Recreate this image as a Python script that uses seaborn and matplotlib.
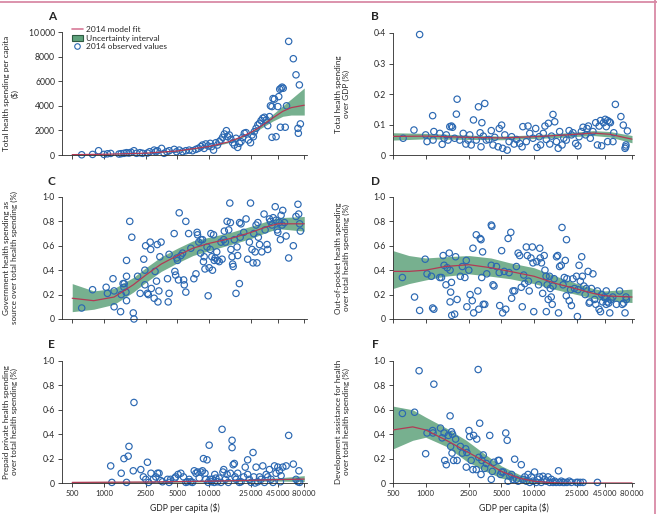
import numpy as np
import pandas as pd
import matplotlib
matplotlib.use('Agg')
import matplotlib.pyplot as plt
from matplotlib.lines import Line2D
from matplotlib.patches import Patch
from matplotlib.ticker import NullLocator
import seaborn as sns

# ---------------- data ----------------
x_ticks = [500, 1000, 2500, 5000, 10000, 25000, 45000, 80000]
x_tick_labels = ['500', '1000', '2500', '5000', '10\u2009000', '25\u2009000', '45\u2009000', '80\u2009000']

# A: total health spending per capita ($)
a_gdp = [615, 780, 890, 1000, 1080, 1160, 1390, 1460, 1550, 1640, 1730, 1810, 1930, 2040, 2200, 2330,
         2590, 2720, 3000, 3110, 3230, 3530, 3730, 3960, 4170, 4650, 4900, 5200, 5590, 6000, 6460, 6950,
         7480, 7890, 8340, 8640, 8960, 9290, 9780, 10230, 10530, 11000, 11570, 12000, 12450, 12940, 13420,
         13930, 14570, 14970, 15530, 16110, 16720, 17330, 17980, 18650, 19350, 20050, 20800, 21580, 22380,
         23600, 24700, 25500, 26300, 26870, 27900, 29000, 30100, 31100, 32300, 33500, 34800, 36000, 37400,
         38200, 39500, 40400, 41700, 43200, 39500, 44900, 45800, 46800, 48200, 49300, 50500, 47500, 52800,
         54300, 56900, 63000, 66800, 69700, 70300, 71900, 73500]
a_val = [20, 50, 350, 50, 100, 130, 80, 110, 140, 190, 160, 220, 350, 140, 190, 140,
         160, 270, 400, 270, 350, 540, 140, 270, 350, 460, 270, 400, 270, 350, 400, 350,
         460, 540, 680, 810, 540, 900, 730, 950, 680, 400, 1000, 810, 1090, 1220, 1440,
         1710, 1980, 1490, 1630, 1280, 1000, 810, 1360, 620, 950, 1090, 1440, 1770, 1820,
         1220, 1000, 1630, 1490, 1900, 2170, 2450, 2580, 2800, 2990, 3070, 2850, 2390, 3120,
         4000, 3940, 4590, 4540, 1490, 1440, 3940, 4750, 5350, 5430, 5520, 5430, 2260, 2260,
         4000, 9240, 7830, 6520, 2170, 1770, 5700, 2530]
a_fit_gdp = [500, 1000, 2500, 5000, 10000, 15000, 20000, 25000, 30000, 40000, 50000, 60000, 80000]
a_fit = [30, 60, 150, 330, 700, 1050, 1450, 1850, 2250, 3000, 3550, 3850, 4050]
a_lo = [10, 40, 120, 290, 640, 980, 1370, 1750, 2100, 2750, 3150, 3250, 3250]
a_hi = [50, 80, 180, 370, 760, 1120, 1530, 1950, 2400, 3300, 4000, 4550, 5450]

# B: total health spending over GDP
b_gdp = [620, 780, 880, 1000, 1030, 1160, 1190, 1170, 1350, 1420, 1480, 1550, 1610, 1670, 1730, 1770,
         1850, 1920, 1950, 2060, 2220, 2350, 2460, 2550, 2630, 2760, 2930, 3070, 3180, 3240, 3300, 3400,
         3510, 3630, 3830, 4030, 4180, 4340, 4660, 4770, 5020, 5130, 5370, 5650, 5880, 6210, 6540, 6900,
         7360, 7750, 7880, 8480, 8790, 9120, 9770, 10350, 10650, 11150, 11470, 12160, 12600, 12970, 13550,
         13960, 14500, 14940, 15510, 16080, 16700, 17210, 18110, 18800, 19820, 21040, 22120, 22840, 24190,
         25400, 26000, 27300, 28300, 29900, 30800, 31700, 33000, 34900, 37000, 38400, 39800, 41000, 42000,
         43700, 45300, 46300, 47700, 49500, 50600, 47700, 53400, 54300, 56200, 63200, 66500, 70000, 70400,
         72600, 69000]
b_val = [0.055, 0.082, 0.395, 0.066, 0.044, 0.129, 0.077, 0.049, 0.071, 0.035, 0.055, 0.066, 0.049, 0.093,
         0.095, 0.091, 0.055, 0.134, 0.183, 0.049, 0.071, 0.036, 0.049, 0.066, 0.033, 0.115, 0.049, 0.158,
         0.073, 0.027, 0.106, 0.062, 0.169, 0.049, 0.051, 0.080, 0.033, 0.058, 0.027, 0.087, 0.098, 0.022,
         0.066, 0.016, 0.044, 0.060, 0.036, 0.051, 0.038, 0.027, 0.093, 0.044, 0.095, 0.071, 0.055, 0.087,
         0.025, 0.060, 0.033, 0.071, 0.095, 0.051, 0.104, 0.036, 0.062, 0.133, 0.109, 0.044, 0.022, 0.077,
         0.033, 0.055, 0.049, 0.080, 0.066, 0.073, 0.038, 0.030, 0.060, 0.077, 0.091, 0.066, 0.087, 0.095,
         0.055, 0.077, 0.106, 0.033, 0.095, 0.113, 0.030, 0.106, 0.117, 0.093, 0.113, 0.109, 0.106, 0.044,
         0.044, 0.073, 0.166, 0.126, 0.098, 0.027, 0.033, 0.079, 0.022]
b_fit_gdp = [500, 1000, 2500, 5000, 10000, 20000, 35000, 50000, 80000]
b_fit = [0.061, 0.062, 0.058, 0.056, 0.060, 0.066, 0.072, 0.068, 0.052]
b_lo = [0.049, 0.053, 0.051, 0.050, 0.054, 0.059, 0.064, 0.059, 0.040]
b_hi = [0.073, 0.071, 0.065, 0.062, 0.066, 0.073, 0.080, 0.077, 0.064]

# C: government health spending share
c_gdp = [615, 780, 1050, 1080, 1220, 1250, 1250, 1460, 1520, 1560, 1440, 1550, 1620, 1640, 1640, 1640,
         1760, 1840, 1900, 1930, 2090, 2210, 2390, 2450, 2450, 2490, 2590, 2640, 2750, 2780, 2820, 3000,
         3060, 3160, 3260, 3330, 3210, 3400, 3490, 4020, 4080, 4160, 4160, 4650, 4720, 4800, 4920, 5000,
         5110, 5190, 5380, 5590, 5720, 5800, 6000, 6000, 6380, 6700, 7150, 7490, 7680, 7750, 7970, 8280,
         8340, 8640, 8820, 8960, 9120, 9540, 9780, 10000, 10230, 10380, 10600, 10750, 11000, 11170, 11400,
         11800, 12000, 12450, 12940, 13260, 13750, 13930, 14250, 14800, 15330, 15700, 15900, 16100, 16500,
         16700, 16900, 17330, 17980, 18400, 18650, 19350, 19450, 19700, 20050, 21300, 22400, 23200, 24100,
         24700, 25500, 26100, 26500, 27300, 27900, 28400, 29000, 29300, 30100, 31600, 33200, 34000, 35400,
         35990, 37400, 38200, 39500, 40500, 42400, 43200, 44300, 44900, 46200, 47500, 48200, 49300, 50000,
         51900, 53800, 56900, 63000, 66800, 69700, 70800, 72300, 73500]
c_val = [0.09, 0.24, 0.26, 0.21, 0.33, 0.23, 0.10, 0.20, 0.29, 0.29, 0.06, 0.26, 0.22, 0.48, 0.35, 0.15,
         0.80, 0.67, 0.05, 0.00, 0.35, 0.21, 0.49, 0.40, 0.28, 0.60, 0.21, 0.20, 0.63, 0.57, 0.25, 0.17,
         0.39, 0.31, 0.14, 0.23, 0.61, 0.51, 0.63, 0.33, 0.14, 0.21, 0.53, 0.70, 0.39, 0.36, 0.50, 0.48,
         0.32, 0.87, 0.52, 0.54, 0.32, 0.28, 0.80, 0.22, 0.70, 0.58, 0.33, 0.37, 0.71, 0.69, 0.63, 0.54,
         0.65, 0.65, 0.47, 0.51, 0.41, 0.59, 0.19, 0.42, 0.57, 0.70, 0.51, 0.40, 0.69, 0.48, 0.50,
         0.55, 0.48, 0.47, 0.63, 0.49, 0.65, 0.72, 0.63, 0.80, 0.73, 0.95, 0.79, 0.57, 0.51,
         0.45, 0.43, 0.65, 0.21, 0.59, 0.52, 0.29, 0.79, 0.67, 0.78, 0.71, 0.82, 0.49, 0.63,
         0.95, 0.57, 0.46, 0.70, 0.55, 0.77, 0.46, 0.79, 0.67, 0.61, 0.55, 0.86, 0.73, 0.61,
         0.57, 0.82, 0.80, 0.77, 0.83, 0.92, 0.81, 0.73, 0.71, 0.79, 0.65, 0.85, 0.77, 0.89,
         0.79, 0.68, 0.50, 0.60, 0.84, 0.94, 0.86, 0.78, 0.72]
c_fit_gdp = [500, 800, 1250, 1900, 2500, 3500, 5000, 7000, 10000, 16000, 25000, 35000, 45000, 80000]
c_fit = [0.17, 0.15, 0.18, 0.28, 0.36, 0.45, 0.52, 0.58, 0.62, 0.66, 0.71, 0.755, 0.78, 0.78]
c_lo = [0.06, 0.08, 0.12, 0.22, 0.30, 0.39, 0.46, 0.52, 0.56, 0.61, 0.66, 0.71, 0.74, 0.72]
c_hi = [0.29, 0.23, 0.25, 0.34, 0.42, 0.51, 0.58, 0.64, 0.67, 0.71, 0.76, 0.80, 0.83, 0.84]

# D: out-of-pocket share
d_gdp = [610, 790, 880, 990, 1030, 1130, 1160, 1190, 1350, 1400, 1450, 1480, 1540, 1580, 1650, 1680, 1680,
         1700, 1730, 1740, 1850, 1890, 1950, 2090, 2180, 2300, 2370, 2400, 2500, 2570, 2690, 2730, 2770,
         2930, 3030, 3090, 3180, 3240, 3290, 3350, 3400, 3510, 3660, 4030, 4080, 4030, 4180, 4270, 4500,
         4770, 4820, 5020, 5130, 5300, 5480, 5760, 5880, 6100, 6210, 6390, 6620, 6870, 7130, 7360, 7620,
         7780, 8020, 8200, 8480, 8670, 8870, 9020, 9350, 9640, 9770, 9930, 10600, 11000, 11280, 11400,
         11700, 12000, 12400, 12600, 12900, 13200, 12970, 13500, 13900, 14100, 14400, 14700, 14940, 15300,
         16100, 16500, 16800, 17200, 17800, 18100, 18500, 19000, 19400, 19900, 19820, 20100, 21100, 21700,
         22100, 22840, 23600, 24600, 25100, 25400, 26000, 26700, 27500, 27900, 28800, 29600, 30300, 31500,
         32200, 32700, 33800, 34900, 36200, 37100, 38400, 39800, 41000, 42000, 42900, 44300, 45300, 46300,
         46300, 47700, 48800, 49900, 51300, 53200, 57500, 61500, 65000, 67000, 69000, 70400, 71000]
d_val = [0.34, 0.18, 0.07, 0.49, 0.37, 0.35, 0.09, 0.08, 0.34, 0.34, 0.52, 0.44, 0.28, 0.42, 0.54, 0.40,
         0.14, 0.22, 0.30, 0.03, 0.04, 0.51, 0.16, 0.35, 0.43, 0.34, 0.48, 0.10, 0.40, 0.20, 0.15, 0.58,
         0.05, 0.69, 0.23, 0.08, 0.66, 0.65, 0.34, 0.55, 0.12, 0.12, 0.37, 0.77, 0.76, 0.44, 0.28, 0.27,
         0.43, 0.38, 0.11, 0.56, 0.05, 0.39, 0.08, 0.66, 0.38, 0.71, 0.17, 0.23, 0.23, 0.43, 0.54, 0.52,
         0.26, 0.10, 0.36, 0.29, 0.59, 0.52, 0.31, 0.23, 0.50, 0.59, 0.46, 0.06, 0.47, 0.28, 0.58, 0.50,
         0.46, 0.21, 0.52, 0.40, 0.35, 0.28, 0.06, 0.16, 0.35, 0.25, 0.18, 0.12, 0.27, 0.33,
         0.51, 0.52, 0.05, 0.43, 0.44, 0.75, 0.28, 0.34, 0.48, 0.65, 0.19, 0.33, 0.15, 0.24,
         0.11, 0.33, 0.25, 0.35, 0.02, 0.24, 0.44, 0.31, 0.51, 0.35, 0.27, 0.20, 0.25, 0.39,
         0.13, 0.14, 0.25, 0.37, 0.16, 0.12, 0.23, 0.08, 0.06, 0.20, 0.14, 0.18, 0.17, 0.12,
         0.23, 0.14, 0.13, 0.05, 0.16, 0.18, 0.12, 0.23, 0.12, 0.13, 0.05, 0.18, 0.16]
d_fit_gdp = [500, 700, 1000, 1500, 2500, 4000, 6000, 10000, 16000, 25000, 35000, 45000, 80000]
d_fit = [0.39, 0.39, 0.40, 0.43, 0.445, 0.42, 0.39, 0.35, 0.29, 0.245, 0.21, 0.19, 0.18]
d_lo = [0.25, 0.29, 0.32, 0.35, 0.37, 0.35, 0.33, 0.29, 0.24, 0.20, 0.17, 0.15, 0.135]
d_hi = [0.56, 0.52, 0.50, 0.51, 0.52, 0.50, 0.46, 0.42, 0.35, 0.29, 0.25, 0.23, 0.245]

# E: prepaid private share
e_gdp = [1160, 1190, 1460, 1550, 1640, 1700, 1730, 1900, 1930, 2240, 2370, 2500, 2590, 2660, 2800, 2950,
         3110, 3230, 3340, 3470, 3600, 4020, 4160, 4300, 4720, 4800, 5060, 5380, 5700, 6000, 6230, 6460,
         6700, 6950, 7210, 7480, 7750, 8040, 8340, 8640, 8820, 9120, 9290, 9540, 9780, 10000, 10230, 10530,
         10750, 11170, 11300, 11570, 12000, 12450, 12940, 13260, 13500, 13750, 14250, 14800, 15200, 15900,
         16500, 16500, 16900, 17330, 17600, 17980, 18650, 19350, 20050, 21300, 22000, 23200, 23200, 24100,
         25000, 26100, 26500, 27300, 27900, 29000, 30100, 31100, 32300, 33500, 34800, 36000, 37400, 38700,
         40400, 41700, 43200, 44900, 46500, 47500, 48200, 50000, 53800, 56900, 63000, 66800, 69700, 71200,
         72300]
e_val = [0.14, 0.005, 0.08, 0.20, 0.005, 0.22, 0.30, 0.10, 0.66, 0.11, 0.05, 0.03, 0.17, 0.005, 0.08, 0.03,
         0.05, 0.08, 0.08, 0.02, 0.01, 0.03, 0.005, 0.03, 0.04, 0.05, 0.07, 0.08, 0.05, 0.005, 0.01, 0.03,
         0.01, 0.005, 0.10, 0.08, 0.09, 0.04, 0.09, 0.10, 0.20, 0.08, 0.03, 0.19, 0.005, 0.31, 0.03, 0.01,
         0.03, 0.005, 0.07, 0.04, 0.01, 0.04, 0.005, 0.44, 0.09, 0.11, 0.03, 0.07, 0.005, 0.08,
         0.35, 0.29, 0.15, 0.16, 0.05, 0.03, 0.08, 0.005, 0.01, 0.05, 0.13, 0.19, 0.07, 0.03,
         0.005, 0.25, 0.05, 0.0, 0.13, 0.01, 0.05, 0.03, 0.14, 0.005, 0.07, 0.05, 0.11, 0.03,
         0.005, 0.14, 0.08, 0.13, 0.10, 0.01, 0.06, 0.13, 0.14, 0.39, 0.155, 0.03, 0.01, 0.10,
         0.005]
e_fit_gdp = [500, 2500, 10000, 25000, 45000, 80000]
e_fit = [0.005, 0.008, 0.015, 0.022, 0.028, 0.032]
e_lo = [0.0, 0.003, 0.009, 0.014, 0.016, 0.012]
e_hi = [0.012, 0.014, 0.022, 0.032, 0.042, 0.060]

# F: development assistance for health share
f_gdp = [610, 790, 870, 1000, 1030, 1160, 1170, 1190, 1370, 1420, 1480, 1500, 1550, 1620, 1680, 1700, 1730,
         1750, 1770, 1810, 1890, 1950, 2090, 2180, 2340, 2370, 2400, 2510, 2550, 2630, 2730, 2770, 2930,
         2960, 3050, 3090, 3150, 3240, 3300, 3400, 3500, 3630, 3900, 4030, 4120, 4250, 4660, 4770, 4900,
         5020, 5200, 5480, 5650, 5760, 5980, 6210, 6390, 6620, 6870, 7130, 7620, 7880, 8200, 8480, 8790,
         9120, 9450, 9770, 10100, 10470, 10850, 11250, 11650, 12070, 12500, 12970, 13450, 13930, 14430,
         14940, 15500, 16000, 16800, 17210, 17800, 18500, 19100, 20100, 21100, 22100, 24600, 25400, 26700,
         28300, 38400]
f_val = [0.57, 0.58, 0.92, 0.24, 0.41, 0.43, 0.41, 0.81, 0.45, 0.37, 0.41, 0.185, 0.15, 0.39, 0.55, 0.30,
         0.42, 0.245, 0.40, 0.185, 0.36, 0.185, 0.30, 0.245, 0.28, 0.13, 0.25, 0.43, 0.38, 0.185, 0.11,
         0.39, 0.11, 0.36, 0.93, 0.21, 0.49, 0.07, 0.185, 0.23, 0.12, 0.16, 0.39, 0.03, 0.095, 0.17,
         0.185, 0.185, 0.07, 0.09, 0.09, 0.41, 0.35, 0.015, 0.055, 0.07, 0.03, 0.195, 0.03, 0.015, 0.15,
         0.03, 0.05, 0.015, 0.07, 0.005, 0.05, 0.015, 0.09, 0.005, 0.03, 0.05, 0.005, 0.055, 0.03,
         0.015, 0.05, 0.005, 0.03, 0.005, 0.015, 0.005, 0.10, 0.005, 0.015, 0.005, 0.005, 0.005, 0.015,
         0.005, 0.005, 0.005, 0.005, 0.005, 0.005]
f_fit_gdp = [500, 760, 1000, 1550, 2370, 3600, 5000, 7300, 10000, 14000, 18000, 25000, 45000, 80000]
f_fit = [0.435, 0.46, 0.435, 0.35, 0.26, 0.17, 0.095, 0.04, 0.014, 0.004, 0.0, 0.0, 0.0, 0.0]
f_lo = [0.28, 0.35, 0.375, 0.30, 0.18, 0.095, 0.04, 0.01, 0.0, 0.0, 0.0, 0.0, 0.0, 0.0]
f_hi = [0.63, 0.60, 0.54, 0.45, 0.35, 0.23, 0.14, 0.07, 0.03, 0.01, 0.002, 0.0, 0.0, 0.0]

panels = [
    ('A', a_gdp, a_val, a_fit_gdp, a_fit, a_lo, a_hi,
     'Total health spending per capita\n($)', [0, 2000, 4000, 6000, 8000, 10000],
     ['0', '2000', '4000', '6000', '8000', '10\u2009000']),
    ('B', b_gdp, b_val, b_fit_gdp, b_fit, b_lo, b_hi,
     'Total health spending\nover GDP (%)', [0, 0.1, 0.2, 0.3, 0.4],
     ['0', '0\u00b71', '0\u00b72', '0\u00b73', '0\u00b74']),
    ('C', c_gdp, c_val, c_fit_gdp, c_fit, c_lo, c_hi,
     'Government health spending as\nsource over total health spending (%)', None, None),
    ('D', d_gdp, d_val, d_fit_gdp, d_fit, d_lo, d_hi,
     'Out-of-pocket health spending\nover total health spending (%)', None, None),
    ('E', e_gdp, e_val, e_fit_gdp, e_fit, e_lo, e_hi,
     'Prepaid private health spending\nover total health spending (%)', None, None),
    ('F', f_gdp, f_val, f_fit_gdp, f_fit, f_lo, f_hi,
     'Development assistance for health\nover total health spending (%)', None, None),
]
share_ticks = [0, 0.2, 0.4, 0.6, 0.8, 1.0]
share_labels = ['0', '0\u00b72', '0\u00b74', '0\u00b76', '0\u00b78', '1\u00b70']

# ---------------- style ----------------
sns.set_style('ticks')
plt.rcParams['font.family'] = ['Lato', 'DejaVu Sans']
plt.rcParams['axes.linewidth'] = 0.6
plt.rcParams['xtick.major.width'] = 0.6
plt.rcParams['ytick.major.width'] = 0.6
plt.rcParams['xtick.major.size'] = 3
plt.rcParams['ytick.major.size'] = 3

blue = '#2b68b2'
red = '#b23a55'
green = '#5fa27c'
axis_col = '#2a2a2a'

fig = plt.figure(figsize=(6.57, 5.14), dpi=100)

# axes boxes in figure fractions: [left, bottom, width, height]
boxes = [
    [0.0944, 0.6984, 0.3729, 0.2393],
    [0.5982, 0.6984, 0.3668, 0.2374],
    [0.0944, 0.3794, 0.3729, 0.2374],
    [0.5982, 0.3794, 0.3668, 0.2374],
    [0.0944, 0.0603, 0.3729, 0.2374],
    [0.5982, 0.0603, 0.3668, 0.2374],
]
letter_pos = [(0.079, 0.967), (0.571, 0.967), (0.079, 0.646), (0.571, 0.646), (0.079, 0.329), (0.571, 0.329)]

for i, (letter, gx, gy, fx, fy, flo, fhi, ylab, yt, ytl) in enumerate(panels):
    ax = fig.add_axes(boxes[i])
    left_col = (i % 2 == 0)

    ax.fill_between(fx, flo, fhi, color=green, alpha=0.85, linewidth=0, zorder=1)
    df = pd.DataFrame({'gdp': gx, 'val': gy})
    sns.scatterplot(data=df, x='gdp', y='val', ax=ax, marker='o', s=21,
                    facecolors='none', edgecolor=blue, linewidth=0.85,
                    zorder=2, clip_on=False)
    fit_df = pd.DataFrame({'gdp': fx, 'val': fy})
    sns.lineplot(data=fit_df, x='gdp', y='val', ax=ax, color=red, linewidth=0.9, zorder=3)

    ax.set_xscale('log')
    if left_col:
        ax.set_xlim(400, 85000)
    else:
        ax.set_xlim(500, 83500)
    ax.set_xticks(x_ticks)
    ax.xaxis.set_minor_locator(NullLocator())
    if i >= 4:
        ax.set_xticklabels(x_tick_labels, fontsize=5.6)
        ax.set_xlabel('GDP per capita ($)', fontsize=6.2, labelpad=4)
    else:
        ax.set_xticklabels([])
        ax.set_xlabel('')

    if yt is None:
        yt, ytl = share_ticks, share_labels
    ax.set_ylim(yt[0], yt[-1])
    ax.set_yticks(yt)
    ax.set_yticklabels(ytl, fontsize=6.2)
    ax.set_ylabel(ylab, fontsize=5.9, linespacing=1.15)
    ax.yaxis.set_label_coords(-0.178, 0.5)

    ax.tick_params(colors=axis_col, pad=2)
    for side in ['left', 'bottom']:
        ax.spines[side].set_color(axis_col)
    sns.despine(ax=ax)
    ax.set_facecolor('none')

    fig.text(letter_pos[i][0], letter_pos[i][1], letter, fontsize=8.5, fontweight='bold',
             ha='center', va='center')

    if letter == 'A':
        handles = [Line2D([0], [0], color='#d87a98', linewidth=1.2),
                   Patch(facecolor=green, edgecolor='#2e5a42', linewidth=0.8),
                   Line2D([0], [0], marker='o', linestyle='none', markersize=4,
                          markerfacecolor='none', markeredgecolor=blue, markeredgewidth=0.8)]
        ax.legend(handles, ['2014 model fit', 'Uncertainty interval', '2014 observed values'],
                  loc='upper left', bbox_to_anchor=(0.04, 1.05), frameon=False, fontsize=6.0,
                  handlelength=1.3, handleheight=0.8, handletextpad=0.4, labelspacing=0.2,
                  borderaxespad=0, borderpad=0)

# pink frame edges of the source page
fig.add_artist(Line2D([0, 1], [0.996, 0.996], transform=fig.transFigure, color='#d98aa6', linewidth=1.3))
fig.add_artist(Line2D([0.997, 0.997], [0, 1], transform=fig.transFigure, color='#d98aa6', linewidth=1.3))

fig.savefig('out.png', dpi=100)
